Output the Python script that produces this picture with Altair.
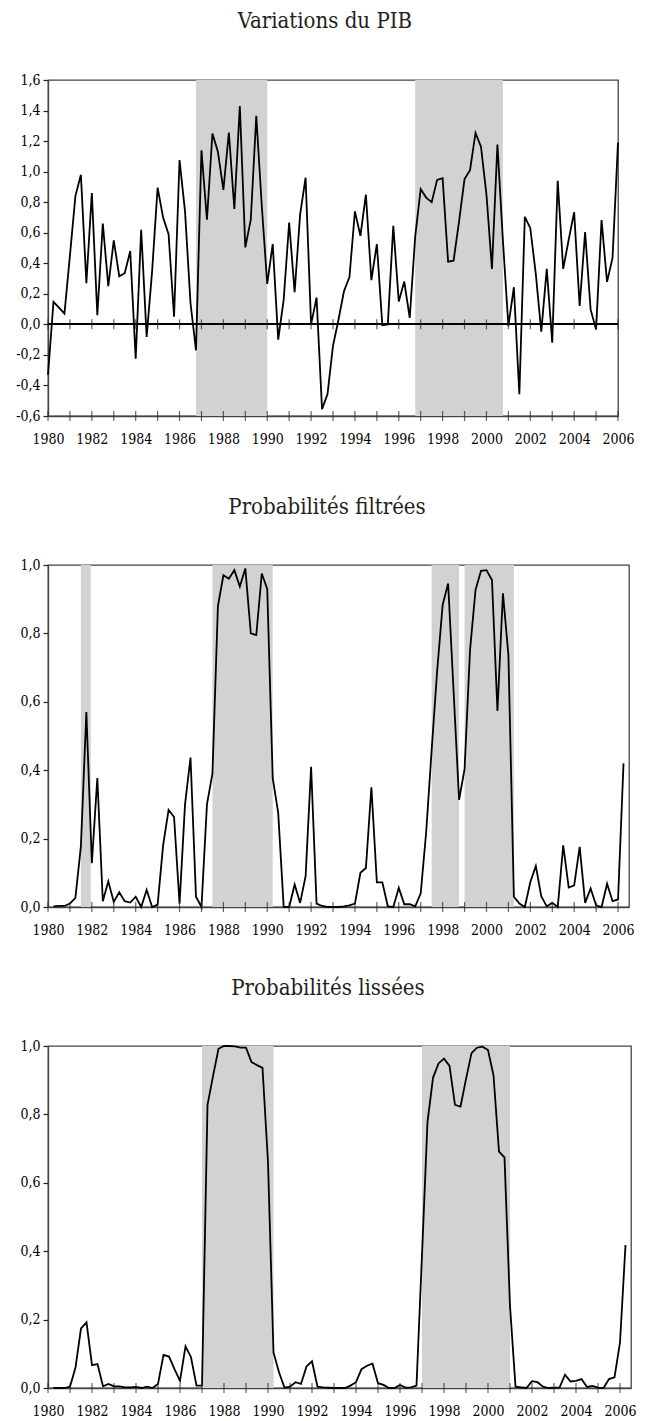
import altair as alt
import pandas as pd

FONT = "DejaVu Serif Condensed"

# ---------------- data ----------------
# Panel 1: quarterly GDP variations, 1980Q1 .. 2006Q1
gdp_values = [
    -0.33, 0.148, 0.11, 0.07, 0.45, 0.84, 0.98, 0.27, 0.86, 0.06,
    0.66, 0.25, 0.55, 0.315, 0.335, 0.48, -0.225, 0.62, -0.083, 0.35,
    0.895, 0.70, 0.59, 0.05, 1.076, 0.74, 0.14, -0.17, 1.14, 0.685,
    1.25, 1.13, 0.88, 1.256, 0.755, 1.43, 0.504, 0.685, 1.365, 0.78,
    0.265, 0.526, -0.10, 0.16, 0.667, 0.21, 0.72, 0.96, 0.0, 0.175,
    -0.555, -0.457, -0.14, 0.03, 0.217, 0.31, 0.74, 0.58, 0.85, 0.29,
    0.526, -0.005, 0.0, 0.646, 0.15, 0.28, 0.043, 0.576, 0.885, 0.83,
    0.80, 0.946, 0.957, 0.41, 0.417, 0.674, 0.952, 1.01, 1.254, 1.163,
    0.85, 0.363, 1.178, 0.55, -0.01, 0.243, -0.457, 0.704, 0.63, 0.33,
    -0.048, 0.363, -0.12, 0.94, 0.363, 0.554, 0.735, 0.12, 0.604, 0.098,
    -0.033, 0.683, 0.278, 0.435, 1.19,
]
# Panel 2: filtered probabilities, 1980Q2 .. 2006Q2
filtered_values = [
    0.002, 0.003, 0.003, 0.01, 0.027, 0.177, 0.57, 0.128, 0.377, 0.017,
    0.075, 0.015, 0.043, 0.017, 0.013, 0.03, 0.0, 0.05, 0.0, 0.007,
    0.18, 0.284, 0.263, 0.01, 0.30, 0.437, 0.03, 0.0, 0.30, 0.39,
    0.88, 0.97, 0.96, 0.985, 0.937, 0.99, 0.80, 0.795, 0.975, 0.93,
    0.377, 0.275, 0.0, 0.0, 0.066, 0.012, 0.09, 0.41, 0.01, 0.003,
    0.0, 0.0, 0.0, 0.002, 0.005, 0.01, 0.10, 0.114, 0.35, 0.072,
    0.072, 0.002, 0.0, 0.056, 0.008, 0.008, 0.002, 0.04, 0.22, 0.46,
    0.69, 0.883, 0.946, 0.63, 0.313, 0.403, 0.752, 0.927, 0.983, 0.985,
    0.956, 0.573, 0.917, 0.737, 0.03, 0.01, 0.0, 0.073, 0.12, 0.031,
    0.002, 0.012, 0.0, 0.18, 0.057, 0.063, 0.176, 0.012, 0.054, 0.005,
    0.0, 0.068, 0.017, 0.022, 0.42,
]
# Panel 3: smoothed probabilities, 1980Q2 .. 2006Q2
smoothed_values = [
    0.0, 0.0, 0.0, 0.004, 0.06, 0.174, 0.192, 0.067, 0.07, 0.005,
    0.012, 0.005, 0.005, 0.002, 0.002, 0.003, 0.0, 0.004, 0.0, 0.012,
    0.097, 0.092, 0.055, 0.021, 0.122, 0.09, 0.007, 0.007, 0.827, 0.912,
    0.992, 1.0, 1.0, 0.999, 0.995, 0.995, 0.953, 0.944, 0.936, 0.66,
    0.104, 0.046, 0.001, 0.004, 0.017, 0.012, 0.063, 0.078, 0.004, 0.002,
    0.001, 0.0, 0.0, 0.0, 0.007, 0.017, 0.055, 0.065, 0.071, 0.014,
    0.009, 0.0, 0.0, 0.009, 0.001, 0.002, 0.007, 0.39, 0.778, 0.907,
    0.949, 0.963, 0.942, 0.828, 0.823, 0.903, 0.979, 0.995, 0.998, 0.988,
    0.914, 0.691, 0.674, 0.24, 0.004, 0.002, 0.0, 0.02, 0.017, 0.004,
    0.0, 0.001, 0.001, 0.039, 0.019, 0.021, 0.026, 0.003, 0.006, 0.001,
    0.0, 0.026, 0.031, 0.133, 0.418,
]
gdp_quarters = [1980 + 0.25 * i for i in range(len(gdp_values))]
prob_quarters = [1980.25 + 0.25 * i for i in range(len(filtered_values))]

# shaded regimes
gdp_shade_start = [1986.75, 1996.75]
gdp_shade_end = [1990.0, 2000.75]
filt_shade_start = [1981.5, 1987.5, 1997.5, 1999.0]
filt_shade_end = [1981.95, 1990.25, 1998.75, 2001.25]
smooth_shade_start = [1987.0, 1997.0]
smooth_shade_end = [1990.25, 2001.0]

tick_years = list(range(1980, 2007))
label_years = list(range(1980, 2007, 2))
gdp_yticks = [-0.6, -0.4, -0.2, 0.0, 0.2, 0.4, 0.6, 0.8, 1.0, 1.2, 1.4, 1.6]
prob_yticks = [0.0, 0.2, 0.4, 0.6, 0.8, 1.0]

LABEL_EXPR = "replace(replace(format(datum.value, '.1f'), '.', ','), '\u2212', '-')"


def make_panel(title, xs, ys, s_start, s_end, ydom, yticks, xmax, width, height,
               zero_line, title_offset, extra_bottom):
    xscale = alt.Scale(domain=[1980, xmax], nice=False, zero=False)
    yscale = alt.Scale(domain=ydom, nice=False, zero=False)
    xaxis_kw = dict(values=label_years, format="d", ticks=False, labelPadding=16,
                    labelFont=FONT, labelFontSize=14, labelColor="black",
                    labelFlush=False, labelOverlap=False, domainColor="#444",
                    domainWidth=1.3, grid=False)
    if extra_bottom:
        xaxis_kw.update(title=" ", titleFontSize=extra_bottom, titlePadding=0,
                        titleFont=FONT)
    else:
        xaxis_kw.update(title=None)
    xaxis = alt.Axis(**xaxis_kw)
    xtitle = " " if extra_bottom else None
    yaxis = alt.Axis(values=yticks, labelExpr=LABEL_EXPR, tickSize=5,
                     tickColor="#222", tickWidth=1.2, labelPadding=3,
                     labelFont=FONT, labelFontSize=14, labelColor="black",
                     domainColor="#444", domainWidth=1.3, grid=False, title=None,
                     labelOverlap=False)

    line_df = pd.DataFrame({"t": xs, "v": ys})
    shade_df = pd.DataFrame({"s": s_start, "e": s_end})
    tick_df = pd.DataFrame({"year": tick_years})

    shade = alt.Chart(shade_df).mark_rect(color="#d1d2d4").encode(
        x=alt.X("s:Q", scale=xscale, axis=xaxis, title=xtitle),
        x2="e:Q",
    )
    line = alt.Chart(line_df).mark_line(color="black", strokeWidth=1.8).encode(
        x=alt.X("t:Q", scale=xscale, axis=xaxis, title=xtitle),
        y=alt.Y("v:Q", scale=yscale, axis=yaxis, title=None),
    )
    layers = [shade]
    tick_levels = [ydom[0]]
    if zero_line:
        zero = alt.Chart(tick_df).mark_rule(color="black", strokeWidth=1.2).encode(
            y=alt.YDatum(0, scale=yscale, axis=yaxis, title=None, type="quantitative"),
        )
        layers.append(zero)
        tick_levels.append(0)
    layers.append(line)
    for lvl in tick_levels:
        ticks = alt.Chart(tick_df).mark_tick(
            orient="vertical", size=10, thickness=1.2, color="#222"
        ).encode(
            x=alt.X("year:Q", scale=xscale, axis=xaxis, title=xtitle),
            y=alt.YDatum(lvl, scale=yscale, axis=yaxis, title=None, type="quantitative"),
        )
        layers.append(ticks)

    return alt.layer(*layers).properties(
        width=width,
        height=height,
        title=alt.TitleParams(
            text=title, font=FONT, fontSize=22, fontWeight="normal",
            color="#231f20", anchor="middle", frame="bounds", offset=title_offset,
        ),
    )


p1 = make_panel("Variations du PIB", gdp_quarters, gdp_values,
                gdp_shade_start, gdp_shade_end, [-0.6, 1.6], gdp_yticks,
                2006, 570, 336, True, 40, 10)
p2 = make_panel("Probabilités filtrées", prob_quarters, filtered_values,
                filt_shade_start, filt_shade_end, [0, 1], prob_yticks,
                2006.5, 581, 342, False, 39, 0)
p3 = make_panel("Probabilités lissées", prob_quarters, smoothed_values,
                smooth_shade_start, smooth_shade_end, [0, 1], prob_yticks,
                2006.5, 583, 342, False, 39, 0)

chart = alt.vconcat(p1, p2, p3, spacing=38).properties(
    padding={"left": 15, "top": 9, "right": 5, "bottom": 0},
    background="white",
).configure_view(stroke="#444", strokeWidth=1.3)

chart.save("out.html", embed_options={"renderer": "svg", "actions": False})
